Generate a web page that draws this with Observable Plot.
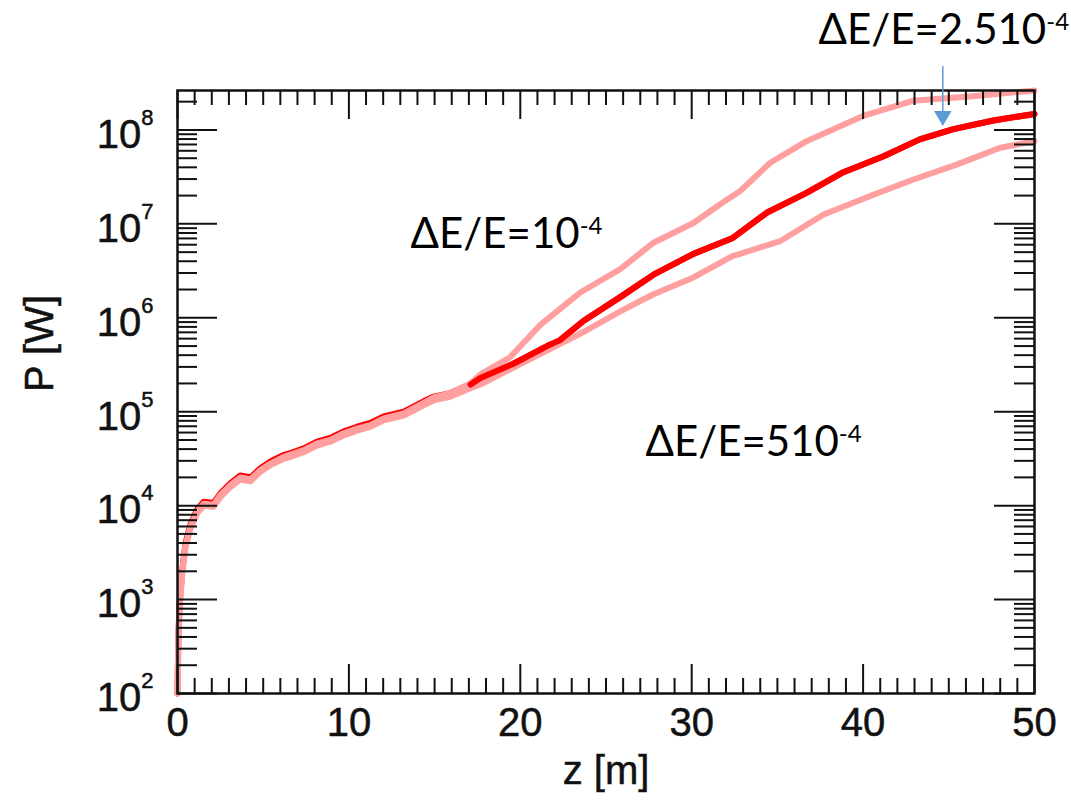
<!DOCTYPE html>
<html>
<head>
<meta charset="utf-8">
<script src="https://cdn.jsdelivr.net/npm/d3@7"></script>
<script src="https://cdn.jsdelivr.net/npm/@observablehq/plot@0.6"></script>
<style>
  html, body { margin: 0; padding: 0; background: #fff; }
  #chart { width: 1071px; height: 802px; }
</style>
</head>
<body>
<div id="chart"></div>
<script>
// ---------- data ----------
// dE/E = 2.5e-4 (dark red, middle)
const zMid = [0, 0.05, 0.12, 0.27, 0.47, 0.76, 1.15, 1.53, 2.1, 2.5, 3.1, 3.67, 4.26, 4.84, 5.42, 6.2, 6.59, 7.36, 8.14, 8.92, 9.7, 10.48, 11.25, 12.03, 13.2, 14.36, 14.95, 15.9, 17.1, 17.67, 19.6, 21.56, 22.3, 23.7, 25.83, 27.77, 30.1, 32.4, 34.4, 36.7, 38.85, 41.2, 43.3, 45.27, 47.6, 50];
const pMid = [1e2, 4.0e2, 9.0e2, 2.0e3, 4.0e3, 6.3e3, 9.1e3, 1.1e4, 1.07e4, 1.35e4, 1.74e4, 2.1e4, 2.0e4, 2.5e4, 2.95e4, 3.47e4, 3.63e4, 4.07e4, 4.79e4, 5.25e4, 6.17e4, 6.92e4, 7.59e4, 8.91e4, 1.0e5, 1.29e5, 1.45e5, 1.58e5, 1.95e5, 2.29e5, 3.24e5, 5.0e5, 5.75e5, 9.3e5, 1.66e6, 2.88e6, 4.79e6, 7.08e6, 1.32e7, 2.14e7, 3.55e7, 5.25e7, 7.94e7, 1.02e8, 1.26e8, 1.48e8];

// dE/E = 1e-4 (light, upper)
const zUp = [0, 0.05, 0.12, 0.27, 0.47, 0.76, 1.15, 1.53, 2.1, 2.5, 3.1, 3.67, 4.26, 4.84, 5.42, 6.2, 6.59, 7.36, 8.14, 8.92, 9.7, 10.48, 11.25, 12.03, 13.2, 14.36, 14.95, 15.9, 17.1, 17.67, 19.4, 21.2, 22.14, 23.5, 25.83, 27.77, 30.1, 31.66, 32.83, 34.58, 36.7, 40.0, 42.9, 46.4, 50];
const pUp = [1e2, 3.8e2, 8.5e2, 1.9e3, 3.8e3, 6.0e3, 8.7e3, 1.05e4, 1.02e4, 1.3e4, 1.66e4, 2.0e4, 1.9e4, 2.4e4, 2.8e4, 3.3e4, 3.5e4, 3.9e4, 4.6e4, 5.0e4, 5.9e4, 6.6e4, 7.2e4, 8.5e4, 9.6e4, 1.24e5, 1.42e5, 1.58e5, 2.0e5, 2.5e5, 3.8e5, 8.5e5, 1.17e6, 1.86e6, 3.3e6, 6.3e6, 1.02e7, 1.62e7, 2.24e7, 4.47e7, 7.6e7, 1.41e8, 2.04e8, 2.29e8, 2.63e8];

// dE/E = 5e-4 (light, lower)
const zLow = [0, 0.05, 0.12, 0.27, 0.47, 0.76, 1.15, 1.53, 2.1, 2.5, 3.1, 3.67, 4.26, 4.84, 5.42, 6.2, 6.59, 7.36, 8.14, 8.92, 9.7, 10.48, 11.25, 12.03, 13.2, 14.36, 14.95, 15.9, 17.1, 17.67, 19.6, 22.3, 23.7, 25.83, 27.77, 30.1, 32.4, 32.83, 35.2, 37.7, 40.6, 42.9, 45.45, 48.0, 50];
const pLow = [1e2, 3.6e2, 8.1e2, 1.85e3, 3.6e3, 5.7e3, 8.3e3, 1.0e4, 9.7e3, 1.23e4, 1.58e4, 1.9e4, 1.82e4, 2.3e4, 2.7e4, 3.15e4, 3.3e4, 3.7e4, 4.35e4, 4.8e4, 5.6e4, 6.3e4, 6.9e4, 8.1e4, 9.1e4, 1.17e5, 1.32e5, 1.44e5, 1.78e5, 1.95e5, 2.95e5, 5.25e5, 7.1e5, 1.17e6, 1.78e6, 2.69e6, 4.57e6, 4.8e6, 6.6e6, 1.26e7, 2.04e7, 2.95e7, 4.27e7, 6.46e7, 7.6e7];

// axes
const xDomain = [0, 50];
const yDomain = [1e2, 2.63e8];
const xMajorTicks = [0, 10, 20, 30, 40, 50];
const xMinorTicks = d3.range(0, 51, 1).filter(d => d % 10 !== 0);
const yMajorTicks = [1e2, 1e3, 1e4, 1e5, 1e6, 1e7, 1e8];
const yTickLabels = ["10^2", "10^3", "10^4", "10^5", "10^6", "10^7", "10^8"];
const yMinorTicks = [];
for (let k = 2; k <= 8; k++) for (let m = 2; m <= 9; m++) { const v = m * 10 ** k; if (v <= yDomain[1]) yMinorTicks.push(v); }
const xLabel = "z [m]";
const yLabel = "P [W]";

// annotations
const annText = ["ΔE/E=10^-4", "ΔE/E=510^-4", "ΔE/E=2.510^-4"];
const annZ = [13.6, 27.3, 37.4];
const annP = [5.56e6, 3.4e4, 8.17e8];
const arrowZ = [44.65];
const arrowTopP = [4.8e8];
const arrowBaseP = [1.59e8];
const arrowHeadP = [1.41e8];

// ---------- layout ----------
const W = 1071, H = 802;
const mL = 177, mR = 37, mT = 90, mB = 109;
const innerW = W - mL - mR, innerH = H - mT - mB;

const seriesMid = zMid.map((z, i) => ({z, p: pMid[i]}));
const seriesUp = zUp.map((z, i) => ({z, p: pUp[i]}));
const seriesLow = zLow.map((z, i) => ({z, p: pLow[i]}));

const pink = "#ff9f9f";
const red = "#ff0000";
const blue = "#5b9bd5";
const ink = "#111";

const chart = Plot.plot({
  width: W, height: H,
  marginLeft: mL, marginRight: mR, marginTop: mT, marginBottom: mB,
  style: {fontFamily: "'Liberation Sans', Arial, sans-serif", background: "#fff", overflow: "visible"},
  x: {domain: xDomain},
  y: {type: "log", domain: yDomain},
  marks: [
    Plot.line(seriesMid, {x: "z", y: "p", stroke: red, strokeWidth: 6, strokeLinejoin: "round"}),
    Plot.line(seriesLow, {x: "z", y: "p", stroke: pink, strokeWidth: 6, strokeLinejoin: "round"}),
    Plot.line(seriesUp, {x: "z", y: "p", stroke: pink, strokeWidth: 6, strokeLinejoin: "round"}),
    Plot.line(seriesMid.filter(d => d.z >= 17), {x: "z", y: "p", stroke: red, strokeWidth: 6, strokeLinejoin: "round", strokeLinecap: "round"}),
    // inward ticks: bottom & top
    Plot.tickX(xMinorTicks, {x: d => d, insetTop: innerH - 15, stroke: ink, strokeWidth: 2}),
    Plot.tickX(xMajorTicks, {x: d => d, insetTop: innerH - 29, stroke: ink, strokeWidth: 2}),
    Plot.tickX(xMinorTicks, {x: d => d, insetBottom: innerH - 15, stroke: ink, strokeWidth: 2}),
    Plot.tickX(xMajorTicks, {x: d => d, insetBottom: innerH - 29, stroke: ink, strokeWidth: 2}),
    // inward ticks: left & right
    Plot.tickY(yMinorTicks, {y: d => d, insetRight: innerW - 20, stroke: ink, strokeWidth: 2}),
    Plot.tickY(yMajorTicks, {y: d => d, insetRight: innerW - 40, stroke: ink, strokeWidth: 2}),
    Plot.tickY(yMinorTicks, {y: d => d, insetLeft: innerW - 20, stroke: ink, strokeWidth: 2}),
    Plot.tickY(yMajorTicks, {y: d => d, insetLeft: innerW - 40, stroke: ink, strokeWidth: 2}),
    Plot.frame({stroke: ink, strokeWidth: 2.5}),
    Plot.axisX({ticks: xMajorTicks, tickSize: 0, tickPadding: 14, fontSize: 40, label: null, fill: ink}),
    Plot.axisY({ticks: yMajorTicks, tickFormat: d => yTickLabels[yMajorTicks.indexOf(d)], tickSize: 0, tickPadding: 24, fontSize: 40, label: null, dy: 5, fill: ink}),
    Plot.text([xLabel], {frameAnchor: "bottom", dy: 78, fontSize: 40, fill: ink, lineAnchor: "middle"}),
    Plot.text([yLabel], {frameAnchor: "left", dx: -137, rotate: -90, fontSize: 40, fill: ink, lineAnchor: "middle"}),
    // annotations
    Plot.text(annText, {x: (d, i) => annZ[i], y: (d, i) => annP[i], text: d => d, textAnchor: "start", lineAnchor: "bottom", fontSize: 42, fontFamily: "Lato, 'Open Sans', sans-serif", fill: "#000"}),
    Plot.link(arrowZ, {x1: d => d, x2: d => d, y1: (d, i) => arrowTopP[i], y2: (d, i) => arrowBaseP[i], stroke: blue, strokeWidth: 1.5}),
    Plot.dot(arrowZ, {x: d => d, y: (d, i) => arrowHeadP[i], symbol: "triangle", rotate: 180, r: 6.5, fill: blue, stroke: "none"})
  ]
});

// turn "a^b" labels into real superscripts; thicken the Helvetica-like axis text a little
d3.select(chart).selectAll("text").each(function() {
  const t = this.textContent;
  const isAnn = t.startsWith("Δ");
  if (!isAnn) d3.select(this).attr("stroke", ink).attr("stroke-width", 0.5);
  if (!t.includes("^")) return;
  const [base, exp] = t.split("^");
  const sel = d3.select(this);
  sel.text(null);
  sel.append("tspan").text(base);
  sel.append("tspan").attr("font-size", isAnn ? 24 : 22).attr("dy", isAnn ? -14 : -23).text(exp);
});

document.getElementById("chart").appendChild(chart);
</script>
</body>
</html>
